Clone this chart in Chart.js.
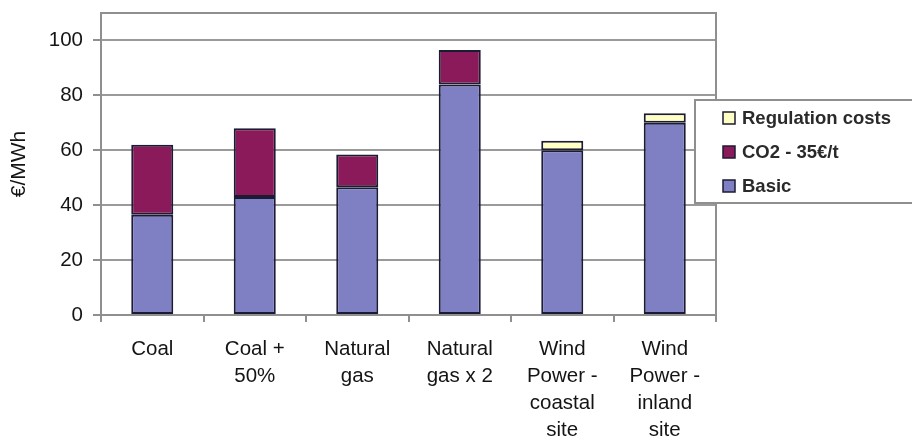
<!DOCTYPE html>
<html>
<head>
<meta charset="utf-8">
<script src="https://cdn.jsdelivr.net/npm/chart.js@4/dist/chart.umd.min.js"></script>
<style>
  html, body { margin: 0; padding: 0; background: #ffffff; }
  #wrap { width: 912px; height: 438px; }
</style>
</head>
<body>
<div id="wrap"><canvas id="c" width="912" height="438"></canvas></div>
<script>
// Generation cost per technology, €/MWh
const categories = [
  ['Coal'],
  ['Coal +', '50%'],
  ['Natural', 'gas'],
  ['Natural', 'gas x 2'],
  ['Wind', 'Power -', 'coastal', 'site'],
  ['Wind', 'Power -', 'inland', 'site']
];
const basicCost      = [36.5, 43, 46.5, 84, 60, 70];
const co2Cost        = [25.5, 25, 12, 12.5, null, null];
const regulationCost = [null, null, null, null, 3.5, 3.5];
const seriesNames    = ['Basic', 'CO2 - 35€/t', 'Regulation costs'];
const yTicks         = [0, 20, 40, 60, 80, 100];
const yAxisTitle     = '€/MWh';

const FONT = '"Liberation Sans", Arial, sans-serif';
const EDGE = '#1b1b33';
const TEXT = '#141414';

// Boxed plot frame and an overlapping legend panel on the right
const framePlugin = {
  id: 'frame',
  afterDatasetsDraw(chart) {
    const { ctx, chartArea: a } = chart;
    ctx.save();
    ctx.strokeStyle = '#8f8f8f';
    ctx.lineWidth = 2;
    ctx.beginPath();
    ctx.moveTo(a.left, a.top);
    ctx.lineTo(a.right, a.top);
    ctx.lineTo(a.right, a.bottom);
    ctx.stroke();
    ctx.restore();
  },
  afterDraw(chart) {
    const { ctx } = chart;
    const box = { x: 695, y: 100, w: 230, h: 103 };
    ctx.save();
    ctx.fillStyle = '#ffffff';
    ctx.fillRect(box.x, box.y, box.w, box.h);
    ctx.strokeStyle = '#8f8f8f';
    ctx.lineWidth = 2;
    ctx.strokeRect(box.x, box.y, box.w, box.h);
    const items = chart.data.datasets.slice().reverse();
    const rowY = [118, 152, 186];
    ctx.font = 'bold 18.5px ' + FONT;
    ctx.textBaseline = 'middle';
    ctx.textAlign = 'left';
    items.forEach((ds, i) => {
      const y = rowY[i];
      ctx.fillStyle = ds.backgroundColor;
      ctx.fillRect(723, y - 6, 12, 12);
      ctx.strokeStyle = EDGE;
      ctx.lineWidth = 1.5;
      ctx.strokeRect(723, y - 6, 12, 12);
      ctx.fillStyle = '#2a2a2a';
      ctx.fillText(ds.label, 742, y + 1);
    });
    ctx.restore();
  }
};

const barStyle = {
  borderColor: EDGE,
  borderWidth: 2,
  borderSkipped: false,
  barPercentage: 0.41,
  categoryPercentage: 1.0
};

new Chart(document.getElementById('c'), {
  type: 'bar',
  data: {
    labels: categories,
    datasets: [
      Object.assign({ label: seriesNames[0], data: basicCost, backgroundColor: '#7f7fc4' }, barStyle),
      Object.assign({ label: seriesNames[1], data: co2Cost, backgroundColor: '#8a1a5a' }, barStyle),
      Object.assign({ label: seriesNames[2], data: regulationCost, backgroundColor: '#ffffc4' }, barStyle)
    ]
  },
  options: {
    responsive: false,
    animation: false,
    devicePixelRatio: 1,
    layout: { padding: { top: 13, right: 196, left: 0, bottom: 0 } },
    plugins: {
      legend: { display: false },
      tooltip: { enabled: false }
    },
    scales: {
      x: {
        stacked: true,
        afterFit(scale) { scale.height = 123; scale.paddingLeft = 0; scale.paddingRight = 0; },
        grid: {
          offset: true,
          drawOnChartArea: false,
          drawTicks: true,
          tickLength: 7,
          color: '#8f8f8f',
          lineWidth: 2
        },
        border: { color: '#8f8f8f', width: 2 },
        ticks: {
          autoSkip: false,
          maxRotation: 0,
          padding: 14,
          color: TEXT,
          font: { family: FONT, size: 20.5, lineHeight: '27px' }
        }
      },
      y: {
        stacked: true,
        min: 0,
        max: 110,
        afterFit(scale) { scale.width = 101; scale.paddingTop = 0; scale.paddingBottom = 0; },
        afterBuildTicks(scale) {
          scale.ticks = yTicks.map(v => ({ value: v })).concat([{ value: 110 }]);
        },
        grid: {
          color: '#9a9a9a',
          lineWidth: 2,
          tickLength: 8,
          tickColor: ctx => (ctx.tick && ctx.tick.value === 110) ? 'rgba(0,0,0,0)' : '#8f8f8f'
        },
        border: { color: '#8f8f8f', width: 2 },
        title: {
          display: true,
          text: yAxisTitle,
          color: TEXT,
          font: { family: FONT, size: 21 },
          padding: { top: 7, bottom: 0 }
        },
        ticks: {
          padding: 10,
          color: TEXT,
          font: { family: FONT, size: 20.5 },
          callback: v => (yTicks.includes(v) ? String(v) : '')
        }
      }
    }
  },
  plugins: [framePlugin]
});
</script>
</body>
</html>
